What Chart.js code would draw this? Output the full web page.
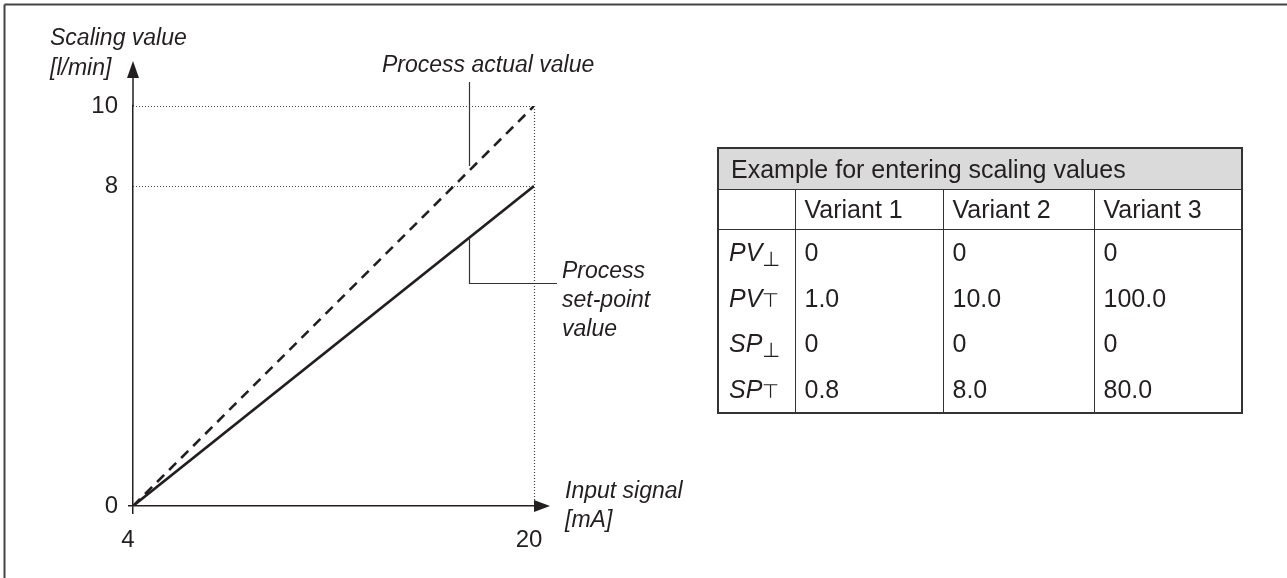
<!DOCTYPE html>
<html>
<head>
<meta charset="utf-8">
<title>Scaling values</title>
<script src="https://cdn.jsdelivr.net/npm/chart.js@4.4.1/dist/chart.umd.min.js"></script>
<style>
  html, body { margin: 0; padding: 0; background: #fff; }
  #wrap { position: relative; width: 1287px; height: 578px; overflow: hidden; }
  #diagram { position: absolute; left: 0; top: 0; }

  #scaling {
    position: absolute; left: 717px; top: 147px; width: 524px;
    table-layout: fixed; border-collapse: collapse;
    font-family: 'Liberation Sans', Arial, sans-serif; font-size: 25px; color: #231f20;
    border: 2px solid #333;
  }
  #scaling th, #scaling td {
    padding: 0 0 0 9px; text-align: left; font-weight: normal; white-space: nowrap;
    border-left: 1.5px solid #333; border-right: 1.5px solid #333;
  }
  #scaling tr.title th { background: #dadada; height: 40px; padding-left: 12px; border-bottom: 1.5px solid #333; }
  #scaling tr.variants td { height: 39px; border-bottom: 1.5px solid #333; }
  #scaling tr.data td { height: 45.5px; }
  #scaling td.name { font-style: italic; padding-left: 10px; }
  #scaling .low { font-family: 'DejaVu Sans', sans-serif; font-style: normal; font-size: 0.82em; position: relative; top: 0.22em; }
  #scaling .high { font-family: 'DejaVu Sans', sans-serif; font-style: normal; font-size: 0.78em; }
</style>
</head>
<body>
<div id="wrap">
  <canvas id="diagram" width="1287" height="578"></canvas>
  <table id="scaling"></table>
</div>
<script>
// chart data
const inputSignal = [4, 20];        // mA
const processActual = [0, 10];      // dashed line
const processSetPoint = [0, 8];     // solid line
const xTicks = [4, 20];
const yTicks = [0, 8, 10];

// table data
const tableTitle = 'Example for entering scaling values';
const variants = ['Variant 1', 'Variant 2', 'Variant 3'];
const rowNames = ['PV', 'PV', 'SP', 'SP'];
const rowMarks = ['⊥', '⊤', '⊥', '⊤'];
const pvLow = ['0', '0', '0'];
const pvHigh = ['1.0', '10.0', '100.0'];
const spLow = ['0', '0', '0'];
const spHigh = ['0.8', '8.0', '80.0'];

const ink = '#231f20';
const fontFamily = "'Liberation Sans', Arial, sans-serif";
const leaderAt = 17.4; // where both leader lines meet the curves

function toPoints(ys) {
    return inputSignal.map((x, i) => ({ x: x, y: ys[i] }));
}

function strokeLine(ctx, x1, y1, x2, y2) {
    ctx.beginPath();
    ctx.moveTo(x1, y1);
    ctx.lineTo(x2, y2);
    ctx.stroke();
}

const diagram = {
    id: 'diagram',

    beforeDatasetsDraw(chart) {
        const { ctx, scales: { x, y } } = chart;
        const right = x.getPixelForValue(inputSignal[inputSignal.length - 1]);
        ctx.save();
        ctx.strokeStyle = '#444';
        ctx.lineWidth = 1.2;
        ctx.setLineDash([1, 2]);
        // dotted guides to the end values
        yTicks.filter(v => v > 0).forEach(v => {
            const py = Math.round(y.getPixelForValue(v)) + 0.5;
            strokeLine(ctx, x.left, py, right, py);
        });
        strokeLine(ctx, right + 0.5, y.getPixelForValue(Math.max(...processActual)), right + 0.5, y.bottom);
        ctx.restore();
    },

    afterDraw(chart) {
        const { ctx, chartArea, scales: { x, y } } = chart;
        const ox = x.left, oy = y.bottom;
        ctx.save();

        // frame (only left and top edges are in view)
        ctx.strokeStyle = '#444';
        ctx.lineWidth = 2;
        strokeLine(ctx, 4.5, 578, 4.5, 4.5);
        strokeLine(ctx, 4.5, 4.5, 1287, 4.5);

        // axis extensions and arrow heads
        ctx.strokeStyle = ink;
        ctx.fillStyle = ink;
        ctx.lineWidth = 1.5;
        strokeLine(ctx, ox, chartArea.top, ox, chartArea.top - 30);
        ctx.beginPath();
        ctx.moveTo(ox, chartArea.top - 45);
        ctx.lineTo(ox - 6, chartArea.top - 28);
        ctx.lineTo(ox + 6, chartArea.top - 28);
        ctx.closePath();
        ctx.fill();
        ctx.beginPath();
        ctx.moveTo(chartArea.right + 16, oy);
        ctx.lineTo(chartArea.right, oy - 6);
        ctx.lineTo(chartArea.right, oy + 6);
        ctx.closePath();
        ctx.fill();

        // leader lines
        const lx = Math.round(x.getPixelForValue(leaderAt)) + 0.5;
        const onLine = (v, ys) => ys[0] + (v - inputSignal[0]) * (ys[1] - ys[0]) / (inputSignal[1] - inputSignal[0]);
        ctx.lineWidth = 1.2;
        ctx.strokeStyle = '#333';
        strokeLine(ctx, lx, 82, lx, y.getPixelForValue(onLine(leaderAt, processActual)) - 5);
        const spY = y.getPixelForValue(onLine(leaderAt, processSetPoint));
        ctx.beginPath();
        ctx.moveTo(lx, spY);
        ctx.lineTo(lx, 283.5);
        ctx.lineTo(557, 283.5);
        ctx.stroke();

        // labels
        ctx.fillStyle = ink;
        ctx.font = 'italic 23px ' + fontFamily;
        ctx.textAlign = 'left';
        ctx.textBaseline = 'alphabetic';
        ctx.fillText('Scaling value', 50, 45);
        ctx.fillText('[l/min]', 50, 75);
        ctx.fillText('Process actual value', 382, 72);
        ctx.fillText('Process', 562, 278);
        ctx.fillText('set-point', 562, 307);
        ctx.fillText('value', 562, 336);
        ctx.fillText('Input signal', 565, 498);
        ctx.fillText('[mA]', 565, 527);
        ctx.restore();
    }
};

const tickFont = { family: fontFamily, size: 24 };

new Chart(document.getElementById('diagram'), {
    type: 'scatter',
    data: {
        datasets: [
            {
                label: 'Process actual value',
                data: toPoints(processActual),
                showLine: true,
                borderColor: ink,
                borderWidth: 2.6,
                borderDash: [10, 7],
                pointRadius: 0
            },
            {
                label: 'Process set-point value',
                data: toPoints(processSetPoint),
                showLine: true,
                borderColor: ink,
                borderWidth: 2.6,
                pointRadius: 0
            }
        ]
    },
    options: {
        responsive: false,
        animation: false,
        devicePixelRatio: 1,
        layout: { padding: { top: 106, right: 753, left: 0, bottom: 0 } },
        plugins: { legend: { display: false }, tooltip: { enabled: false } },
        scales: {
            x: {
                type: 'linear',
                min: inputSignal[0],
                max: inputSignal[inputSignal.length - 1],
                afterBuildTicks: s => { s.ticks = xTicks.map(v => ({ value: v })); },
                afterFit: s => { s.height = 72; },
                border: { color: ink, width: 1.5 },
                grid: {
                    drawOnChartArea: false,
                    tickLength: 8,
                    lineWidth: 1.5,
                    color: c => (c.tick && c.tick.value === xTicks[0]) ? ink : 'rgba(0,0,0,0)'
                },
                ticks: { font: tickFont, color: ink, padding: 12, labelOffset: -5, maxRotation: 0, autoSkip: false }
            },
            y: {
                type: 'linear',
                min: 0,
                max: Math.max(...yTicks),
                afterBuildTicks: s => { s.ticks = yTicks.map(v => ({ value: v })); },
                afterFit: s => { s.width = 133; },
                border: { color: ink, width: 1.5 },
                grid: {
                    drawOnChartArea: false,
                    tickLength: 5,
                    lineWidth: 1.5,
                    color: c => (c.tick && c.tick.value === yTicks[0]) ? ink : 'rgba(0,0,0,0)'
                },
                ticks: { font: tickFont, color: ink, padding: 10, autoSkip: false }
            }
        }
    },
    plugins: [diagram]
});

// table of scaling values
const tableRows = [pvLow, pvHigh, spLow, spHigh];
let html = '<colgroup><col style="width:77px"><col style="width:148px"><col style="width:151px"><col style="width:148px"></colgroup>';
html += `<tr class="title"><th colspan="4">${tableTitle}</th></tr>`;
html += `<tr class="variants"><td></td>${variants.map(v => `<td>${v}</td>`).join('')}</tr>`;
tableRows.forEach((vals, i) => {
    const mark = rowMarks[i] === '⊥' ? 'low' : 'high';
    html += `<tr class="data"><td class="name">${rowNames[i]}<span class="${mark}">${rowMarks[i]}</span></td>`;
    html += vals.map(v => `<td>${v}</td>`).join('') + '</tr>';
});
document.getElementById('scaling').innerHTML = html;
</script>
</body>
</html>
